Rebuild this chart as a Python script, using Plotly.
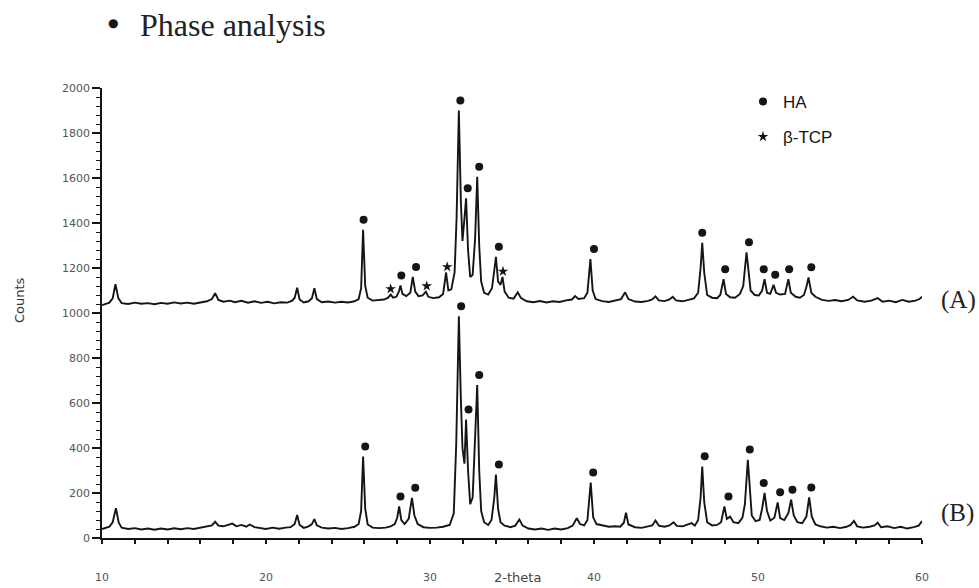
import plotly.graph_objects as go

# ---- diffraction pattern (A), upper trace ----
two_theta_a = [
    10.0, 10.2, 10.45, 10.65, 10.82, 11.0, 11.2, 11.6, 12.0, 12.4, 12.8, 13.2, 13.6, 14.0, 14.4, 14.8,
    15.2, 15.6, 16.0, 16.4, 16.7, 16.9, 17.1, 17.4, 17.8, 18.1, 18.5, 18.9, 19.3, 19.7, 20.1, 20.5,
    20.9, 21.3, 21.6, 21.75, 21.9, 22.05, 22.3, 22.6, 22.8, 22.95, 23.1, 23.4, 23.8, 24.2, 24.6, 25.0,
    25.4, 25.65, 25.8, 25.92, 26.05, 26.2, 26.5, 26.9, 27.2, 27.45, 27.6, 27.75, 27.95, 28.1, 28.2, 28.32,
    28.55, 28.8, 28.95, 29.1, 29.3, 29.55, 29.75, 29.9, 30.2, 30.55, 30.8, 30.98, 31.12, 31.3, 31.5, 31.62,
    31.76, 31.88, 31.98, 32.1, 32.2, 32.32, 32.45, 32.6, 32.75, 32.88, 33.0, 33.12, 33.3, 33.55, 33.78, 33.92,
    34.02, 34.15, 34.3, 34.42, 34.55, 34.8, 35.1, 35.35, 35.55, 35.9, 36.3, 36.7, 37.1, 37.5, 37.9, 38.3,
    38.65, 38.85, 39.05, 39.4, 39.6, 39.78, 39.92, 40.1, 40.5, 40.9, 41.3, 41.65, 41.9, 42.1, 42.5, 42.9,
    43.3, 43.55, 43.75, 43.95, 44.3, 44.6, 44.8, 45.0, 45.4, 45.8, 46.1, 46.35, 46.5, 46.6, 46.72, 46.9,
    47.2, 47.5, 47.7, 47.9, 48.05, 48.3, 48.6, 48.9, 49.1, 49.3, 49.42, 49.55, 49.8, 50.05, 50.25, 50.4,
    50.55, 50.75, 50.95, 51.1, 51.35, 51.65, 51.85, 52.0, 52.3, 52.55, 52.8, 52.95, 53.08, 53.25, 53.5, 53.9,
    54.3, 54.7, 55.1, 55.5, 55.8, 56.05, 56.5, 56.9, 57.3, 57.6, 58.0, 58.4, 58.8, 59.2, 59.6, 59.85, 60.0,
]
counts_a = [
    1035, 1040, 1046, 1065, 1128, 1065, 1044, 1040, 1046, 1041, 1044, 1039, 1045, 1041, 1047, 1042,
    1046, 1041, 1048, 1052, 1062, 1088, 1058, 1050, 1055, 1048, 1054, 1046, 1052, 1045, 1050, 1043,
    1048, 1046, 1055, 1068, 1112, 1060, 1047, 1052, 1066, 1110, 1062, 1048, 1051, 1046, 1050, 1047,
    1052, 1062, 1110, 1370, 1120, 1068, 1055, 1058, 1060, 1068, 1082, 1068, 1072, 1095, 1122, 1085,
    1075, 1090, 1160, 1095, 1075, 1078, 1095, 1072, 1066, 1070, 1085, 1180, 1100, 1105, 1180, 1420,
    1900, 1500, 1320, 1420, 1510, 1280, 1160, 1170, 1330, 1605, 1300, 1140, 1090, 1082, 1110, 1190,
    1250, 1140, 1125, 1160, 1095, 1068, 1064, 1092, 1066, 1052, 1048, 1053, 1047, 1052, 1049, 1056,
    1060, 1075, 1062, 1066, 1090, 1240, 1100, 1062, 1053, 1049, 1055, 1062, 1092, 1062, 1051, 1049,
    1054, 1060, 1074, 1056, 1053, 1060, 1072, 1056, 1052, 1058, 1065, 1090, 1200, 1312, 1180, 1080,
    1068, 1066, 1080, 1150, 1085, 1070, 1068, 1085, 1120, 1270, 1190, 1100, 1080, 1078, 1100, 1150,
    1090, 1085, 1125, 1090, 1082, 1085, 1150, 1090, 1072, 1068, 1080, 1115, 1158, 1090, 1072, 1058,
    1054, 1058, 1052, 1058, 1072, 1056, 1050, 1055, 1066, 1050, 1055, 1048, 1058, 1050, 1055, 1062, 1072,
]

# ---- diffraction pattern (B), lower trace ----
two_theta_b = [
    10.0, 10.2, 10.45, 10.65, 10.85, 11.02, 11.2, 11.6, 12.0, 12.4, 12.8, 13.2, 13.6, 14.0, 14.4, 14.8,
    15.2, 15.6, 16.0, 16.4, 16.7, 16.9, 17.1, 17.4, 17.7, 17.95, 18.2, 18.5, 18.8, 19.0, 19.3, 19.6,
    20.0, 20.4, 20.8, 21.2, 21.5, 21.75, 21.9, 22.05, 22.3, 22.6, 22.8, 22.95, 23.1, 23.4, 23.8, 24.2,
    24.6, 25.0, 25.4, 25.65, 25.8, 25.92, 26.05, 26.2, 26.5, 26.9, 27.3, 27.6, 27.85, 28.0, 28.12, 28.25,
    28.45, 28.7, 28.9, 29.05, 29.25, 29.6, 30.0, 30.4, 30.8, 31.2, 31.45, 31.6, 31.76, 31.88, 31.98, 32.1,
    32.2, 32.32, 32.45, 32.6, 32.75, 32.88, 33.0, 33.12, 33.3, 33.55, 33.75, 33.92, 34.02, 34.15, 34.3, 34.55,
    34.9, 35.2, 35.45, 35.65, 36.0, 36.4, 36.8, 37.2, 37.6, 38.0, 38.4, 38.7, 38.95, 39.15, 39.4, 39.6,
    39.8, 39.95, 40.15, 40.5, 40.9, 41.3, 41.6, 41.82, 41.95, 42.1, 42.5, 42.9, 43.3, 43.55, 43.75, 43.95,
    44.3, 44.6, 44.85, 45.05, 45.4, 45.7, 45.95, 46.15, 46.35, 46.5, 46.6, 46.72, 46.9, 47.2, 47.5, 47.75,
    47.95, 48.1, 48.3, 48.5, 48.8, 49.05, 49.2, 49.38, 49.5, 49.62, 49.85, 50.1, 50.25, 50.4, 50.55, 50.75,
    51.0, 51.2, 51.35, 51.6, 51.85, 52.02, 52.18, 52.4, 52.7, 52.95, 53.12, 53.28, 53.5, 53.8, 54.2, 54.6,
    55.0, 55.4, 55.65, 55.85, 56.05, 56.4, 56.8, 57.1, 57.3, 57.5, 57.9, 58.3, 58.7, 59.1, 59.5, 59.8, 60.0,
]
counts_b = [
    40, 44, 50, 70, 132, 68, 46, 40, 44, 38, 42, 37, 42, 38, 43, 39,
    44, 40, 46, 50, 56, 72, 55, 52, 58, 64, 52, 58, 50, 60, 48, 45,
    40, 46, 41, 46, 48, 62, 102, 58, 45, 52, 62, 84, 56, 46, 42, 45,
    40, 44, 50, 62, 120, 362, 130, 60, 46, 44, 46, 52, 62, 90, 140, 80,
    62, 85, 178, 100, 62, 48, 45, 46, 50, 58, 110, 420, 985, 620, 400, 330,
    526, 300, 150, 180, 420, 680, 300, 120, 70, 58, 80, 180, 282, 130, 70, 55,
    48, 55, 82, 55, 42, 38, 42, 36, 42, 38, 44, 55, 88, 62, 56, 80,
    246, 92, 62, 55, 50, 52, 50, 68, 112, 60, 48, 45, 50, 56, 78, 55,
    50, 56, 70, 54, 52, 60, 66, 55, 80, 180, 318, 160, 70, 56, 58, 70,
    140, 85, 95, 70, 66, 90, 150, 348, 200, 100, 75, 80, 130, 200, 120, 78,
    90, 158, 88, 80, 110, 170, 100, 70, 66, 95, 180, 95, 60, 52, 46, 50,
    44, 50, 58, 76, 52, 46, 50, 56, 68, 48, 52, 44, 50, 42, 48, 55, 75,
]

# ---- phase identification: angles of labelled reflections ----
ha_peaks_a = [25.95, 28.25, 29.15, 31.85, 32.3, 33.0, 34.2, 40.0, 46.6, 48.0, 49.45, 50.35, 51.05, 51.9, 53.25]
tcp_peaks_a = [27.6, 29.8, 31.05, 34.45]
ha_peaks_b = [26.05, 28.2, 29.1, 31.9, 32.35, 33.0, 34.2, 39.95, 46.75, 48.2, 49.5, 50.35, 51.35, 52.1, 53.25]

y_ticks = list(range(0, 2001, 200))
x_ticks = list(range(10, 61, 2))
x_labels = list(range(10, 61, 10))


def marker_heights(angles, xs, ys, gap, window=0.25):
    """Place a phase marker just above the highest point near each angle."""
    out = []
    for a in angles:
        local = [y for x, y in zip(xs, ys) if abs(x - a) <= window]
        out.append(max(local) + gap)
    return out


INK = "#151515"
serif = "Liberation Serif, Times New Roman, serif"
sans = "DejaVu Sans, Verdana, sans-serif"

fig = go.Figure()

fig.add_trace(go.Scatter(x=two_theta_a, y=counts_a, mode="lines",
                         line=dict(color=INK, width=1.9), showlegend=False, hoverinfo="skip"))
fig.add_trace(go.Scatter(x=two_theta_b, y=counts_b, mode="lines",
                         line=dict(color=INK, width=1.9), showlegend=False, hoverinfo="skip"))

ha_x = ha_peaks_a + ha_peaks_b
ha_y = marker_heights(ha_peaks_a, two_theta_a, counts_a, 45) + marker_heights(ha_peaks_b, two_theta_b, counts_b, 45)
fig.add_trace(go.Scatter(x=ha_x, y=ha_y, mode="markers", name="HA", legendgroup="ha",
                         marker=dict(symbol="circle", size=8, color=INK), cliponaxis=False))

tcp_y = marker_heights(tcp_peaks_a, two_theta_a, counts_a, 25, window=0.15)
fig.add_trace(go.Scatter(x=tcp_peaks_a, y=tcp_y, mode="markers", name="β-TCP", legendgroup="tcp",
                         marker=dict(symbol="star", size=8, color=INK), cliponaxis=False))

W, H = 979, 588
L, R, T, B = 102, 57, 88, 50
pw, ph = W - L - R, H - T - B


def px(xp):
    return (xp - L) / pw


def py(yp):
    return (H - B - yp) / ph


fig.update_layout(
    width=W, height=H,
    margin=dict(l=L, r=R, t=T, b=B),
    paper_bgcolor="white", plot_bgcolor="white",
    showlegend=True,
    legend=dict(x=px(743), y=py(84), xanchor="left", yanchor="top",
                font=dict(family="Liberation Sans, Arial, sans-serif", size=17, color=INK),
                tracegroupgap=10, bgcolor="rgba(0,0,0,0)", itemsizing="trace"),
    xaxis=dict(range=[10, 60], showgrid=False, zeroline=False,
               showline=True, linecolor=INK, linewidth=2,
               tickmode="array", tickvals=x_ticks, showticklabels=False,
               ticks="outside", ticklen=4, tickwidth=1.5, tickcolor=INK),
    yaxis=dict(range=[0, 2000], showgrid=False, zeroline=False,
               showline=True, linecolor=INK, linewidth=1.5,
               tickmode="array", tickvals=y_ticks,
               ticks="outside", ticklen=8, tickwidth=1.5, tickcolor=INK,
               minor=dict(dtick=40, ticks="outside", ticklen=4, tickwidth=1.2, tickcolor=INK),
               tickfont=dict(family=sans, size=11, color="#555555")),
)

annotations = [
    dict(text="●", x=px(113), y=py(23), font=dict(family=sans, size=12, color=INK),
         xanchor="center", yanchor="middle"),
    dict(text="Phase analysis", x=px(138), y=py(25), font=dict(family=serif, size=32, color="#222222"),
         xanchor="left", yanchor="middle"),
    dict(text="Counts", x=px(19), y=py(300), textangle=-90, font=dict(family=sans, size=13, color="#333333"),
         xanchor="center", yanchor="middle"),
    dict(text="2-theta", x=px(517), y=py(577), font=dict(family=sans, size=13, color="#444444"),
         xanchor="center", yanchor="middle"),
    dict(text="(A)", x=px(939), y=py(300), font=dict(family=serif, size=25, color="#222222"),
         xanchor="left", yanchor="middle"),
    dict(text="(B)", x=px(939), y=py(513), font=dict(family=serif, size=25, color="#222222"),
         xanchor="left", yanchor="middle"),
]
for a in annotations:
    a.update(xref="paper", yref="paper", showarrow=False)

# x tick labels every 10 degrees, set well below the axis
for v in x_labels:
    annotations.append(dict(text=str(v), x=v, xref="x", y=py(577), yref="paper", showarrow=False,
                            xanchor="center", yanchor="middle",
                            font=dict(family=sans, size=11, color="#555555")))
fig.update_layout(annotations=annotations)

fig.write_html("out.html")
